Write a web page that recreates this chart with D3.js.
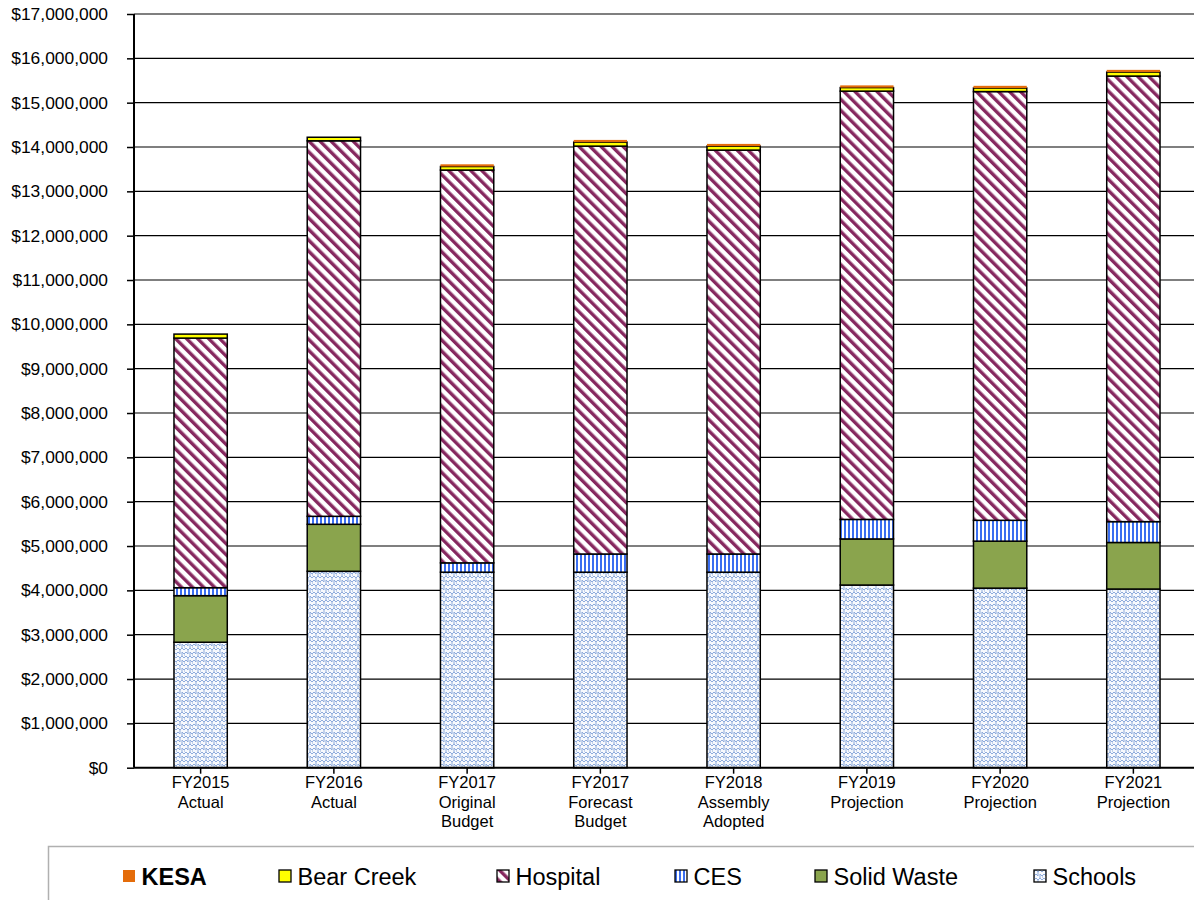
<!DOCTYPE html>
<html>
<head>
<meta charset="utf-8">
<script src="https://cdn.jsdelivr.net/npm/d3@7"></script>
<style>
  body { margin: 0; background: #fff; }
  text { font-family: Arial, "Liberation Sans", sans-serif; }
</style>
</head>
<body>
<div id="chart"></div>
<script>
// data, in millions of dollars
var categories = ["FY2015|Actual", "FY2016|Actual", "FY2017|Original|Budget", "FY2017|Forecast|Budget",
                  "FY2018|Assembly|Adopted", "FY2019|Projection", "FY2020|Projection", "FY2021|Projection"];
var schools    = [2.83, 4.43, 4.41, 4.41, 4.41, 4.12, 4.05, 4.03];
var solidWaste = [1.05, 1.06, 0.00, 0.00, 0.00, 1.04, 1.06, 1.05];
var ces        = [0.18, 0.18, 0.21, 0.41, 0.41, 0.44, 0.47, 0.47];
var hospital   = [5.63, 8.47, 8.86, 9.20, 9.11, 9.66, 9.67, 10.05];
var bearCreek  = [0.09, 0.08, 0.08, 0.09, 0.09, 0.08, 0.08, 0.09];
var kesa       = [0.00, 0.00, 0.05, 0.05, 0.05, 0.05, 0.05, 0.05];
var yTicks = d3.range(0, 18, 1);

var seriesNames = ["Schools", "Solid Waste", "CES", "Hospital", "Bear Creek", "KESA"];
var seriesVals  = [schools, solidWaste, ces, hospital, bearCreek, kesa];
var legendOrder = ["KESA", "Bear Creek", "Hospital", "CES", "Solid Waste", "Schools"];

var width = 1194, height = 900;
var plotLeft = 134, plotRight = 1200, plotTop = 14, plotBottom = 767.7;

var svg = d3.select("#chart").append("svg")
    .attr("width", width).attr("height", height);

// patterns
var defs = svg.append("defs");

var pSchool = defs.append("pattern").attr("id", "pSchools")
    .attr("patternUnits", "userSpaceOnUse").attr("width", 8).attr("height", 8);
pSchool.append("rect").attr("width", 8).attr("height", 8).attr("fill", "#f7f9fd");
pSchool.append("path").attr("d", "M0,2 L2,0 L4,2 L6,0 L8,2 M0,6 L2,4 L4,6 M4,2 L4,6 M6,4 L8,6 M6,4 L6,8 M0,6 L0,8")
    .attr("stroke", "#8eabdc").attr("stroke-width", 1).attr("fill", "none");

var pCes = defs.append("pattern").attr("id", "pCES")
    .attr("patternUnits", "userSpaceOnUse").attr("width", 4).attr("height", 4);
pCes.append("rect").attr("width", 4).attr("height", 4).attr("fill", "#fff");
pCes.append("rect").attr("width", 2).attr("height", 4).attr("fill", "#3a6ef0");

var pHosp = defs.append("pattern").attr("id", "pHospital")
    .attr("patternUnits", "userSpaceOnUse").attr("width", 7.8).attr("height", 7.8)
    .attr("patternTransform", "rotate(-45)");
pHosp.append("rect").attr("width", 7.8).attr("height", 7.8).attr("fill", "#fff");
pHosp.append("rect").attr("width", 3.4).attr("height", 7.8).attr("fill", "#86285f");

var fills = {
  "Schools": "url(#pSchools)",
  "Solid Waste": "#8aa44d",
  "CES": "url(#pCES)",
  "Hospital": "url(#pHospital)",
  "Bear Creek": "#ffff00",
  "KESA": "#e46c0a"
};

var x = d3.scaleBand().domain(categories).range([plotLeft, plotRight])
    .paddingInner(0.6).paddingOuter(0.3);
var y = d3.scaleLinear().domain([0, 17]).range([plotBottom, plotTop]);

// gridlines
svg.append("g").selectAll("line").data(yTicks.slice(1)).enter().append("line")
    .attr("x1", plotLeft).attr("x2", width)
    .attr("y1", function(d) { return y(d); }).attr("y2", function(d) { return y(d); })
    .attr("stroke", "#000").attr("stroke-width", 1.2);

// stacked bars
var table = categories.map(function(c, i) {
  var row = { cat: c };
  seriesNames.forEach(function(s, j) { row[s] = seriesVals[j][i]; });
  return row;
});
var stacked = d3.stack().keys(seriesNames)(table);

svg.append("g").selectAll("g").data(stacked).enter().append("g")
    .attr("fill", function(d) { return fills[d.key]; })
    .attr("stroke", function(d) { return d.key === "KESA" ? "none" : "#000"; })
    .selectAll("rect").data(function(d) { return d.filter(function(e) { return e[1] - e[0] > 0; }); })
    .enter().append("rect")
    .attr("x", function(d) { return x(d.data.cat); })
    .attr("width", x.bandwidth())
    .attr("y", function(d) { return y(d[1]); })
    .attr("height", function(d) { return y(d[0]) - y(d[1]); })
    .attr("stroke-width", 1.5);

// y axis
var yAxis = svg.append("g").attr("transform", "translate(" + plotLeft + ",0)")
    .call(d3.axisLeft(y).tickValues(yTicks).tickSize(7).tickPadding(19)
      .tickFormat(function(d) { return d3.format("$,")(d * 1000000); }));
yAxis.select(".domain").attr("stroke", "#000").attr("stroke-width", 2).attr("d", "M0," + plotTop + "V" + plotBottom);
yAxis.selectAll(".tick line").attr("stroke", "#000").attr("stroke-width", 1.5);
yAxis.selectAll("text").attr("font-size", 17.4).attr("fill", "#000");

// x axis
var xAxis = svg.append("g").attr("transform", "translate(0," + plotBottom + ")")
    .call(d3.axisBottom(x).tickSize(6).tickFormat(""));
xAxis.select(".domain").attr("stroke", "#000").attr("stroke-width", 2).attr("d", "M" + plotLeft + ",0H" + width);
xAxis.selectAll(".tick line").attr("stroke", "#000").attr("stroke-width", 1.5);

svg.append("g").selectAll("text").data(categories).enter().append("text")
    .attr("x", function(d) { return x(d) + x.bandwidth() / 2; })
    .attr("y", plotBottom + 20.5)
    .attr("text-anchor", "middle").attr("font-size", 16.5).attr("fill", "#000")
    .each(function(d) {
      var t = d3.select(this);
      d.split("|").forEach(function(line, i) {
        t.append("tspan").attr("x", x(d) + x.bandwidth() / 2).attr("dy", i === 0 ? 0 : 19.5).text(line);
      });
    });

// legend
var legend = svg.append("g");
legend.append("rect").attr("x", 48.5).attr("y", 846.5).attr("width", 1170).attr("height", 80)
    .attr("fill", "#fff").attr("stroke", "#b0b0b0").attr("stroke-width", 1.5);

var legendX = [123, 279, 497, 675, 815, 1034];
var items = legend.selectAll("g.item").data(legendOrder).enter().append("g").attr("class", "item")
    .attr("transform", function(d, i) { return "translate(" + legendX[i] + ",870)"; });
items.append("rect").attr("width", 12).attr("height", 12)
    .attr("fill", function(d) { return fills[d]; })
    .attr("stroke", function(d) { return d === "KESA" ? "none" : "#000"; })
    .attr("stroke-width", 1.3);
items.append("text").attr("x", 18.5).attr("y", 15)
    .attr("font-size", 23.5).attr("fill", "#000")
    .attr("font-weight", function(d) { return d === "KESA" ? "bold" : "normal"; })
    .text(function(d) { return d; });
</script>
</body>
</html>
